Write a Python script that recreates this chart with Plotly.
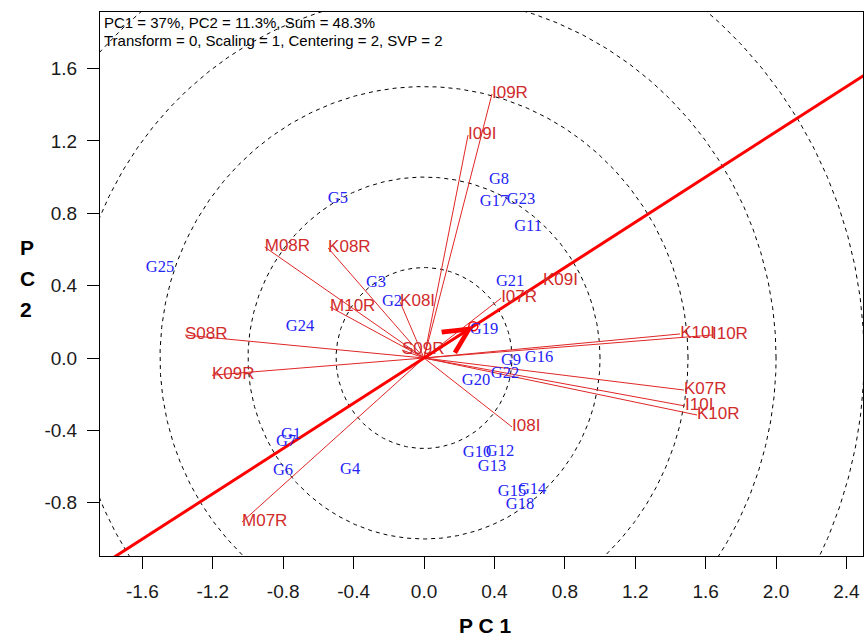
import numpy as np
import plotly.graph_objects as go

# ---- data ----
env_names = ["I09R", "I09I", "K09I", "I07R", "K08I", "M08R", "K08R", "M10R", "S08R",
             "K09R", "S09R", "M07R", "I08I", "K10I", "I10R", "K07R", "I10I", "K10R"]
env_pc1 = [0.386, 0.250, 0.676, 0.438, -0.136, -0.905, -0.545, -0.534, -1.358,
           -1.205, -0.125, -1.034, 0.500, 1.455, 1.636, 1.477, 1.483, 1.551]
env_pc2 = [1.459, 1.232, 0.425, 0.331, 0.309, 0.613, 0.608, 0.282, 0.127,
           -0.095, 0.044, -0.906, -0.381, 0.133, 0.127, -0.177, -0.265, -0.315]

gen_names = ["G1", "G2", "G3", "G4", "G5", "G6", "G7", "G8", "G9", "G10", "G11", "G12", "G13",
             "G14", "G15", "G16", "G17", "G18", "G19", "G20", "G21", "G22", "G23", "G24", "G25"]
gen_pc1 = [-0.756, -0.182, -0.273, -0.420, -0.489, -0.801, -0.784, 0.426, 0.494, 0.301, 0.591, 0.432, 0.386,
           0.614, 0.500, 0.653, 0.398, 0.545, 0.341, 0.295, 0.489, 0.460, 0.551, -0.705, -1.500]
gen_pc2 = [-0.425, 0.309, 0.414, -0.619, 0.878, -0.624, -0.464, 0.983, -0.017, -0.525, 0.724, -0.519, -0.602,
           -0.729, -0.740, 0.000, 0.862, -0.812, 0.155, -0.127, 0.420, -0.088, 0.873, 0.171, 0.497]

avg_env_pc1 = [0.28]
avg_env_pc2 = [0.175]
aea_extent = [-8.0, 10.0]          # multiples of the average-environment vector

circle_radii = [0.5, 1.0, 1.5, 2.0, 2.5]

x_ticks = [-1.6, -1.2, -0.8, -0.4, 0.0, 0.4, 0.8, 1.2, 1.6, 2.0, 2.4]
x_tick_labels = ["-1.6", "-1.2", "-0.8", "-0.4", "0.0", "0.4", "0.8", "1.2", "1.6", "2.0", "2.4"]
y_ticks = [-0.8, -0.4, 0.0, 0.4, 0.8, 1.2, 1.6]
y_tick_labels = ["-0.8", "-0.4", "0.0", "0.4", "0.8", "1.2", "1.6"]

info_lines = ["PC1 = 37%, PC2 = 11.3%, Sum = 48.3%",
              "Transform = 0, Scaling = 1, Centering = 2, SVP = 2"]

# ---- figure ----
fig = go.Figure()

theta = np.linspace(0, 2 * np.pi, 721)
for r in circle_radii:
    fig.add_trace(go.Scatter(x=r * np.cos(theta), y=r * np.sin(theta), mode="lines",
                             line=dict(color="black", width=1, dash="4px,4px"),
                             hoverinfo="skip", showlegend=False))

vx, vy = [], []
for a, b in zip(env_pc1, env_pc2):
    vx += [0, a, None]
    vy += [0, b, None]
fig.add_trace(go.Scatter(x=vx, y=vy, mode="lines", line=dict(color="#E02626", width=1),
                         hoverinfo="skip", showlegend=False))

ax_, ay_ = avg_env_pc1[0], avg_env_pc2[0]
fig.add_trace(go.Scatter(x=[t * ax_ for t in aea_extent], y=[t * ay_ for t in aea_extent],
                         mode="lines", line=dict(color="#FF0000", width=3),
                         hoverinfo="skip", showlegend=False))

fig.add_trace(go.Scatter(x=avg_env_pc1, y=avg_env_pc2, mode="markers",
                         marker=dict(symbol="circle-open", size=9, color="#FF0000",
                                     line=dict(width=1.5, color="#FF0000")),
                         hoverinfo="skip", showlegend=False))

fig.add_trace(go.Scatter(x=env_pc1, y=env_pc2, mode="text", text=env_names,
                         textposition="middle right",
                         textfont=dict(family="Arial, Liberation Sans", size=17, color="#D02B2B"),
                         hoverinfo="skip", showlegend=False))

fig.add_trace(go.Scatter(x=gen_pc1, y=gen_pc2, mode="text", text=gen_names,
                         textposition="middle center",
                         textfont=dict(family="Times New Roman, Liberation Serif", size=16.5, color="#2424F5"),
                         hoverinfo="skip", showlegend=False))

fig.add_annotation(x=ax_, y=ay_, ax=0, ay=0, xref="x", yref="y", axref="x", ayref="y",
                   showarrow=True, arrowhead=5, arrowsize=2.4, arrowwidth=2,
                   arrowcolor="#FF0000", text="")

fig.add_annotation(x=0.002, y=0.9816, xref="paper", yref="paper", xanchor="left", yanchor="middle",
                   text=info_lines[0], showarrow=False,
                   font=dict(family="Arial, Liberation Sans", size=15, color="black"))
fig.add_annotation(x=0.002, y=0.9467, xref="paper", yref="paper", xanchor="left", yanchor="middle",
                   text=info_lines[1], showarrow=False,
                   font=dict(family="Arial, Liberation Sans", size=15, color="black"))

title_font = dict(family="Arial, Liberation Sans", size=21, color="black", weight="bold")
fig.add_annotation(x=0.5046, y=-0.1526, xref="paper", yref="paper", yanchor="bottom",
                   text="P C 1", showarrow=False, font=title_font)
for ch, yy in zip(["P", "C", "2"], [0.568, 0.511, 0.454]):
    fig.add_annotation(x=-0.1075, y=yy, xref="paper", yref="paper", text=ch,
                       showarrow=False, font=title_font)

axis_common = dict(showgrid=False, zeroline=False, showline=True, linecolor="black", linewidth=1,
                   mirror=True, ticks="outside", ticklen=12, tickcolor="black", tickwidth=1,
                   automargin=False,
                   tickfont=dict(family="Arial, Liberation Sans", size=19, color="#1a1a1a"))

fig.update_layout(
    width=865, height=639,
    margin=dict(l=100, r=2, t=12, b=83),
    plot_bgcolor="white", paper_bgcolor="white",
    xaxis=dict(range=[-1.841, 2.494], tickvals=x_ticks, ticktext=x_tick_labels,
               ticklabelstandoff=6, **axis_common),
    yaxis=dict(range=[-1.094, 1.912], tickvals=y_ticks, ticktext=y_tick_labels,
               ticklabelstandoff=6, **axis_common),
)

fig.write_html("out.html", config={"displayModeBar": False},
               post_script="document.body.style.margin='0';document.body.style.overflow='hidden';")
